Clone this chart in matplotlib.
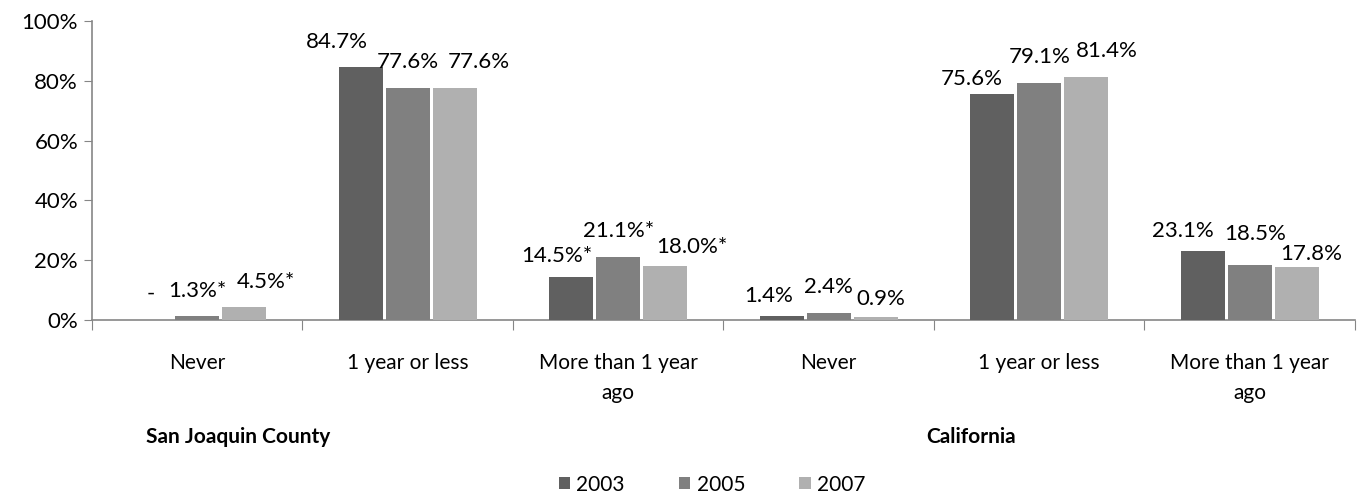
import matplotlib
matplotlib.use("Agg")
import matplotlib.pyplot as plt
import matplotlib.patheffects as pe
from matplotlib.patches import Patch
import numpy as np

plt.rcParams['font.family'] = ['Lato', 'DejaVu Sans']

# data
categories = ['Never', '1 year or less', 'More than 1 year\nago',
              'Never', '1 year or less', 'More than 1 year\nago']
regions = ['San Joaquin County', 'California']
years = ['2003', '2005', '2007']
v2003 = [0.0, 84.7, 14.5, 1.4, 75.6, 23.1]
v2005 = [1.3, 77.6, 21.1, 2.4, 79.1, 18.5]
v2007 = [4.5, 77.6, 18.0, 0.9, 81.4, 17.8]
lab2003 = ['-', '84.7%', '14.5%*', '1.4%', '75.6%', '23.1%']
lab2005 = ['1.3%*', '77.6%', '21.1%*', '2.4%', '79.1%', '18.5%']
lab2007 = ['4.5%*', '77.6%', '18.0%*', '0.9%', '81.4%', '17.8%']

colors = ['#606060', '#808080', '#b0b0b0']

# label nudges in pixels (dx, gap above bar top) - mimic excel's overlap shuffling
nudge2003 = [(0, 20), (-24, 19), (-14, 15), (-13, 14), (-21, 9), (-20, 14)]
nudge2005 = [(0, 19), (0, 20), (0, 20), (0, 20), (0, 20), (5, 25)]
nudge2007 = [(22, 19), (24, 20), (27, 13), (5, 12), (21, 20), (15, 7)]

fig = plt.figure(figsize=(13.59, 4.98), dpi=100)
ax = fig.add_axes([0.0677, 0.3574, 0.9293, 0.6006])

x = np.arange(len(categories))
w = 0.209
step = 0.223
series = [(v2003, lab2003, nudge2003), (v2005, lab2005, nudge2005), (v2007, lab2007, nudge2007)]
# soft shadow under the bars like the excel glow
shadow = [pe.SimplePatchShadow(offset=(0, -4), shadow_rgbFace='#aaaaaa', alpha=0.35), pe.Normal()]

for i, (vals, labs, nudges) in enumerate(series):
    pos = x + (i - 1) * step
    bars = ax.bar(pos, vals, width=w, color=colors[i], zorder=3)
    for b in bars:
        b.set_path_effects(shadow)
    for xp, v, t, (dx, dy) in zip(pos, vals, labs, nudges):
        ax.annotate(t, (xp, v), xytext=(dx, dy), textcoords='offset pixels',
                    ha='center', va='baseline', fontsize=16, color='#000000', zorder=4)

ax.set_xlim(-0.5, 5.5)
ax.set_ylim(0, 100)
ax.set_yticks([0, 20, 40, 60, 80, 100])
ax.set_yticklabels(['0%', '20%', '40%', '60%', '80%', '100%'], fontsize=16)

# boundary ticks (major) and centred labels (minor)
ax.set_xticks(np.arange(-0.5, 6.0, 1.0))
ax.set_xticklabels([])
ax.set_xticks(x, minor=True)
ax.set_xticklabels(categories, minor=True, fontsize=15, linespacing=1.6)
ax.tick_params(axis='x', which='major', length=7, color='#868686', direction='out')
ax.tick_params(axis='x', which='minor', length=0, pad=24)
ax.tick_params(axis='y', length=6, color='#868686', pad=4)

for s in ['top', 'right']:
    ax.spines[s].set_visible(False)
for s in ['left', 'bottom']:
    ax.spines[s].set_color('#868686')
    ax.spines[s].set_linewidth(1.2)

# region labels under the categories
ax.text(0.1156, -0.39, regions[0], transform=ax.transAxes, ha='center', va='center',
        fontsize=15, fontweight='bold')
ax.text(0.696, -0.39, regions[1], transform=ax.transAxes, ha='center', va='center',
        fontsize=15, fontweight='bold')

handles = [Patch(facecolor=c, label=y) for c, y in zip(colors, years)]
fig.legend(handles=handles, loc='center', bbox_to_anchor=(0.524, 0.027), ncol=3,
           frameon=False, fontsize=15, handlelength=0.55, handleheight=0.55,
           handletextpad=0.3, columnspacing=2.6)

fig.savefig('out.png', dpi=100)
